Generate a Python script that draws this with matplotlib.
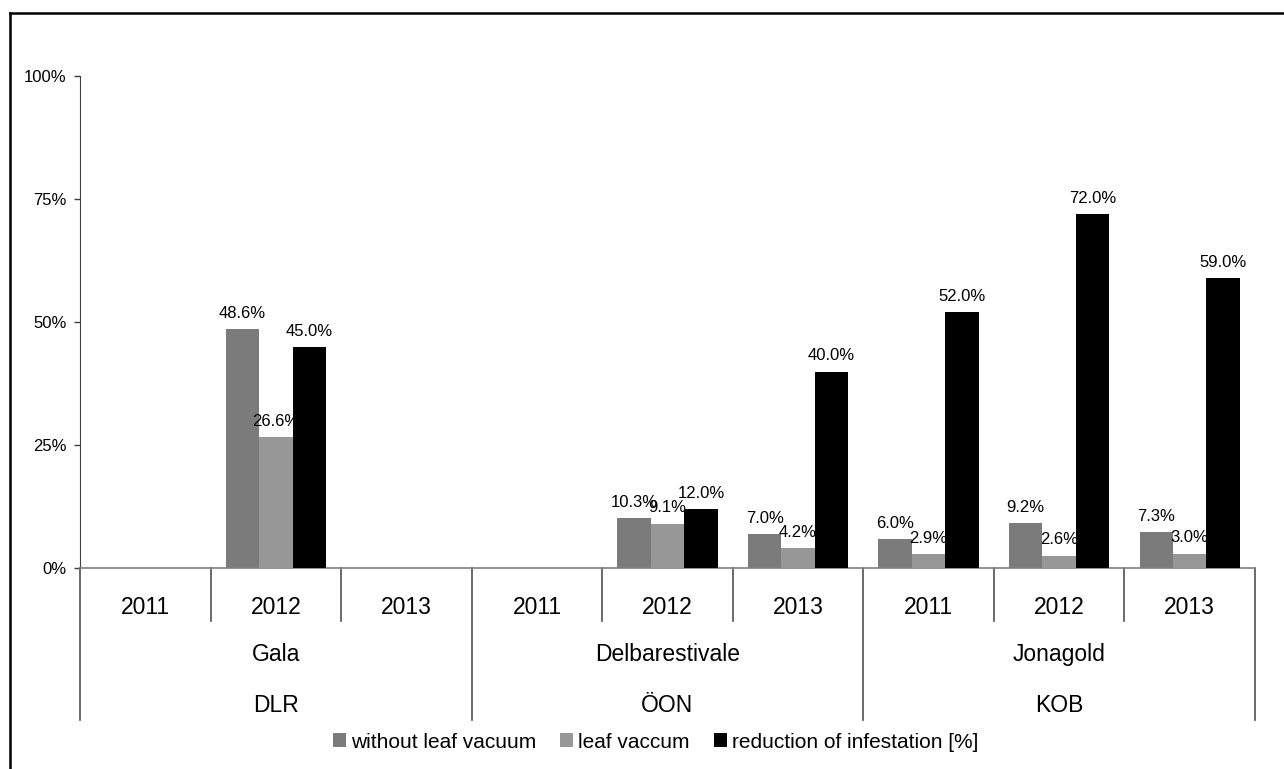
import numpy as np
import matplotlib
matplotlib.use("Agg")
import matplotlib.pyplot as plt
from matplotlib.lines import Line2D
from matplotlib.patches import Patch
import matplotlib.transforms as mtransforms

plt.rcParams['font.family'] = ['Liberation Sans', 'DejaVu Sans']

years = ["2011", "2012", "2013", "2011", "2012", "2013", "2011", "2012", "2013"]
varieties = ["Gala", "Delbarestivale", "Jonagold"]
sites = ["DLR", "ÖON", "KOB"]
series_names = ["without leaf vacuum", "leaf vaccum", "reduction of infestation [%]"]
without_vac = [np.nan, 48.6, np.nan, np.nan, 10.3, 7.0, 6.0, 9.2, 7.3]
leaf_vac = [np.nan, 26.6, np.nan, np.nan, 9.1, 4.2, 2.9, 2.6, 3.0]
reduction = [np.nan, 45.0, np.nan, np.nan, 12.0, 40.0, 52.0, 72.0, 59.0]
yticks = [0, 25, 50, 75, 100]
ytick_labels = ["0%", "25%", "50%", "75%", "100%"]

colors = ["#7b7b7b", "#979797", "#000000"]
W, H = 1284, 769
fig = plt.figure(figsize=(W / 100, H / 100), dpi=100)
ax = fig.add_axes([80 / W, 1 - 568.3 / H, (1255 - 80) / W, (568.3 - 76.3) / H])

x = np.arange(len(years))
bw = 1 / 3.9
data = [without_vac, leaf_vac, reduction]
for k, (vals, c) in enumerate(zip(data, colors)):
    pos = x + (k - 1) * bw
    ax.bar(pos, vals, width=bw, color=c, zorder=2 + 2 * k, linewidth=0)
    for p, v in zip(pos, vals):
        if np.isnan(v):
            continue
        ax.annotate(f"{v:.1f}%", (p, v), xytext=(0, 8), textcoords="offset points",
                    ha="center", va="baseline", fontsize=12, zorder=3 + 2 * k)

ax.set_xlim(-0.5, len(years) - 0.5)
ax.set_ylim(0, 100)
ax.set_yticks(yticks)
ax.set_yticklabels(ytick_labels, fontsize=12)
ax.tick_params(axis="y", direction="out", length=4, width=1, color="#404040", pad=5.5)
ax.set_xticks([])
for s in ["top", "right"]:
    ax.spines[s].set_visible(False)
ax.spines["left"].set_color("#404040")
ax.spines["bottom"].set_color("#808080")
ax.spines["bottom"].set_linewidth(1.2)

trans = mtransforms.blended_transform_factory(ax.transData, ax.transAxes)
for i in range(len(years) + 1):
    xb = i - 0.5
    low = -0.308 if i % 3 == 0 else -0.107
    ax.add_line(Line2D([xb, xb], [0, low], transform=trans, color="#505050",
                       linewidth=1.2, clip_on=False))
for i, yr in enumerate(years):
    ax.text(i, -0.0787, yr, transform=trans, ha="center", va="center", fontsize=16.5)
for g, (v, s) in enumerate(zip(varieties, sites)):
    ax.text(3 * g + 1, -0.176, v, transform=trans, ha="center", va="center", fontsize=16.5)
    ax.text(3 * g + 1, -0.278, s, transform=trans, ha="center", va="center", fontsize=16.5)

handles = [Patch(facecolor=c, edgecolor="none") for c in colors]
fig.legend(handles, series_names, loc="center", bbox_to_anchor=(655.5 / W, 1 - 742 / H),
           ncol=3, frameon=False, fontsize=15, handlelength=0.62, handleheight=0.62,
           handletextpad=0.25, columnspacing=1.15, borderaxespad=0, borderpad=0)

# figure border (top and left edges visible)
fig.add_artist(Line2D([10 / W, 1], [1 - 13 / H, 1 - 13 / H], transform=fig.transFigure,
                      color="black", linewidth=1.8))
fig.add_artist(Line2D([10 / W, 10 / W], [0, 1 - 13 / H], transform=fig.transFigure,
                      color="black", linewidth=1.8))

fig.savefig("out.png", dpi=100)
